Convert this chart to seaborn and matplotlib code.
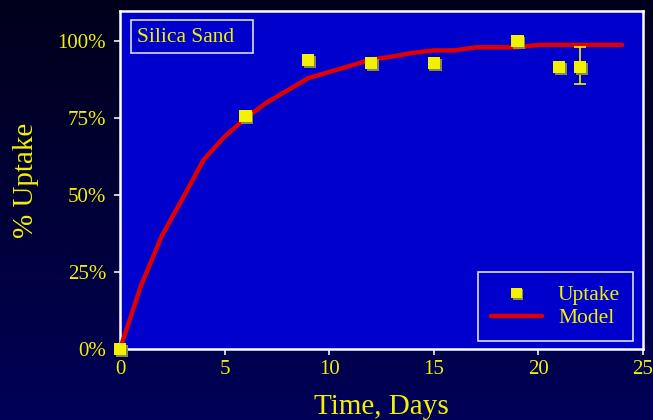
import numpy as np
import pandas as pd
import matplotlib
matplotlib.use("Agg")
import matplotlib.pyplot as plt
import matplotlib.patheffects as pe
from matplotlib.colors import LinearSegmentedColormap
from matplotlib.patches import Rectangle
from matplotlib.lines import Line2D
import seaborn as sns

# ---- data ----
uptake_days = [0, 6, 9, 12, 15, 19, 21, 22]
uptake_vals = [0.0, 0.756, 0.938, 0.928, 0.928, 1.0, 0.915, 0.915]
err_day = [22]
err_val = [0.915]
err_low = [0.055]
err_high = [0.065]

model_days = [0, 1, 2, 3, 4, 5, 6, 7, 8, 9, 10, 11, 12, 13, 14, 15, 16, 17, 18, 19, 20, 21, 22, 23, 24]
model_vals = [0.0, 0.205, 0.368, 0.49, 0.615, 0.69, 0.75, 0.80, 0.84, 0.88, 0.90, 0.92, 0.94, 0.95, 0.962, 0.97, 0.97, 0.98, 0.98, 0.98, 0.988, 0.988, 0.988, 0.988, 0.988]

x_ticks = [0, 5, 10, 15, 20, 25]
y_ticks = [0, 0.25, 0.5, 0.75, 1.0]
y_ticklabels = ["0%", "25%", "50%", "75%", "100%"]

YELLOW = "#F2F200"
PLOTBG = "#0000CC"
SERIF = ["Liberation Serif", "DejaVu Serif"]
W, H = 653, 420

sns.set_style("white")
plt.rcParams["font.family"] = SERIF

fig = plt.figure(figsize=(6.53, 4.2), dpi=100)

# gradient background
bgax = fig.add_axes([0, 0, 1, 1], zorder=-10)
grad = np.linspace(0, 1, 256).reshape(-1, 1)
cmap = LinearSegmentedColormap.from_list("bg", ["#00001C", "#000038", "#000058"])
bgax.imshow(grad, aspect="auto", cmap=cmap, extent=[0, 1, 0, 1], origin="upper")
bgax.set_axis_off()

ax = fig.add_axes([120 / W, 1 - 349 / H, (643 - 120) / W, (349 - 11) / H])
ax.set_facecolor(PLOTBG)

model_df = pd.DataFrame({"Day": model_days, "Uptake": model_vals})
up_df = pd.DataFrame({"Day": uptake_days, "Uptake": uptake_vals})

sns.lineplot(data=model_df, x="Day", y="Uptake", ax=ax, color="#E00000", lw=3.2,
             zorder=3, clip_on=False, legend=False)

ax.errorbar(err_day, err_val, yerr=[err_low, err_high], fmt="none", ecolor=YELLOW,
            elinewidth=1.2, capsize=4, capthick=1.2, zorder=4)

sns.scatterplot(data=up_df, x="Day", y="Uptake", ax=ax, marker="s", s=78,
                color=YELLOW, edgecolor="none", zorder=5, clip_on=False, legend=False)
ax.collections[-1].set_path_effects([
    pe.SimplePatchShadow(offset=(1.2, -1.2), shadow_rgbFace="#8a8a50", alpha=1.0),
    pe.Normal()])

ax.set_xlim(0, 25)
ax.set_ylim(0, 1.098)
ax.set_xticks(x_ticks)
ax.set_yticks(y_ticks)
ax.set_yticklabels(y_ticklabels)

for sp in ax.spines.values():
    sp.set_color("white")
    sp.set_linewidth(1.8)
    sp.set_visible(True)

ax.tick_params(axis="both", which="major", direction="out", length=4, width=1.3,
               color="#DDDDDD", labelcolor=YELLOW, labelsize=15, pad=4,
               bottom=True, left=True)
ax.tick_params(axis="y", pad=6)
for lab in ax.get_xticklabels() + ax.get_yticklabels():
    lab.set_family(SERIF)

ax.set_xlabel("Time, Days", color=YELLOW, fontsize=21, family=SERIF, labelpad=11)
ax.set_ylabel("% Uptake", color=YELLOW, fontsize=21, family=SERIF, labelpad=13)

# title box
fig.patches.append(Rectangle((131 / W, 1 - 53 / H), (253 - 131) / W, (53 - 20) / H,
                             transform=fig.transFigure, facecolor=PLOTBG,
                             edgecolor="#DDDDFF", lw=1.2, zorder=5))
fig.text(137 / W, 1 - 37 / H, "Silica Sand", color=YELLOW, fontsize=15.5, family=SERIF,
         va="center", ha="left", zorder=6)

# legend
h_up = Line2D([], [], marker="s", linestyle="none", markersize=7.5, color=YELLOW,
              markeredgecolor="none",
              path_effects=[pe.SimplePatchShadow(offset=(1.2, -1.2), shadow_rgbFace="#8a8a50", alpha=1.0),
                            pe.Normal()])
h_mod = Line2D([], [], color="#E00000", lw=3.2)
leg = ax.legend([h_up, h_mod], ["Uptake", "Model"], loc="lower right",
                bbox_to_anchor=(633 / W, 1 - 341 / H), bbox_transform=fig.transFigure,
                frameon=True, fancybox=False, facecolor=PLOTBG, edgecolor="#DDDDFF",
                fontsize=15.5, labelcolor=YELLOW, handlelength=2.35, handletextpad=0.75,
                borderpad=0.6, labelspacing=0.12, borderaxespad=0, framealpha=1)
leg.get_frame().set_linewidth(1.2)
for t in leg.get_texts():
    t.set_family(SERIF)

fig.savefig("out.png", dpi=100, facecolor="#000030")
